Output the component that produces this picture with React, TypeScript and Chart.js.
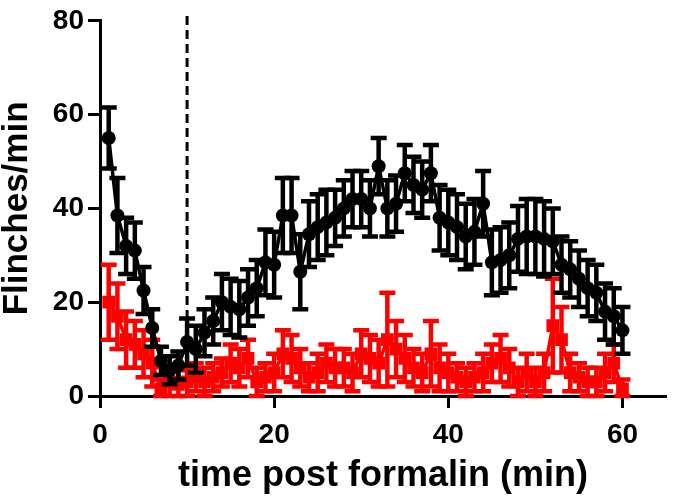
import React, { useEffect, useRef } from "react";
import { Chart, registerables } from "chart.js";

Chart.register(...registerables);

const minutes = Array.from({ length: 60 }, (_, i) => i + 1);

const blackMean = [
  55, 38.5, 32, 31, 22.5, 14.5, 7.5, 5.5, 6.5, 11.5,
  10, 13.5, 16, 20, 19, 18.5, 21, 23, 28.5, 28,
  38.5, 38.5, 26.5, 34.5, 36, 37, 38, 40, 42, 42,
  40, 49, 40, 41, 47.5, 45, 44, 47.5, 38, 37,
  36, 34, 35, 41, 28.5, 29, 30, 33.5, 34, 34,
  33.5, 33, 28, 27, 25, 23, 22, 18, 17, 14,
];
const blackErr = [
  6.5, 8, 6, 6, 5, 4, 3, 3, 3, 5,
  5, 5, 5, 6, 6, 6, 6, 6, 7, 7,
  8, 8, 8, 7, 7, 7, 6, 6, 6, 6,
  6, 6, 6, 6, 6, 6, 6, 6, 7, 7,
  7, 7, 7, 7, 7, 7, 7, 7, 8, 8,
  8, 7, 6, 6, 6, 6, 6, 6, 6, 5,
];

const redMean = [
  20, 17, 12, 11, 9, 7, 1.5, 3, 2.5, 3,
  4, 3, 4, 5, 7, 6, 8, 3, 4, 5,
  9, 8, 6, 4, 5, 7, 6, 6, 5, 9,
  8, 7, 12, 10, 8, 6, 5, 9, 6, 5,
  4, 3, 4, 5, 7, 8, 6, 3, 5, 3,
  5, 15, 12, 5, 4, 3, 3, 5, 7, 1.5,
];
const redErr = [
  8, 7, 6, 5, 5, 5, 2, 3, 3, 3,
  3, 3, 3, 3, 4, 4, 4, 3, 3, 4,
  5, 5, 4, 3, 4, 4, 4, 4, 4, 5,
  5, 5, 10, 6, 5, 4, 4, 7, 5, 4,
  3, 3, 3, 4, 4, 5, 4, 3, 4, 3,
  4, 10, 7, 4, 3, 3, 3, 4, 4, 2,
];

const xTicks = [0, 20, 40, 60];
const yTicks = [0, 20, 40, 60, 80];
const markerX = 10;

const FONT = "'Liberation Sans', Arial, Helvetica, sans-serif";

const errorBarPlugin = {
  id: "errorBars",
  beforeDatasetDraw(chart: any, args: any) {
    const ds = chart.data.datasets[args.index];
    const errs: number[] | undefined = ds.errors;
    if (!errs) return;
    const { ctx, scales } = chart;
    const xs = scales.x;
    const ys = scales.y;
    ctx.save();
    ctx.strokeStyle = ds.borderColor;
    ctx.lineWidth = 4.5;
    ds.data.forEach((p: any, i: number) => {
      const px = xs.getPixelForValue(p.x);
      const top = ys.getPixelForValue(p.y + errs[i]);
      const bot = ys.getPixelForValue(Math.max(0, p.y - errs[i]));
      ctx.beginPath();
      ctx.moveTo(px, top);
      ctx.lineTo(px, bot);
      ctx.moveTo(px - 8, top);
      ctx.lineTo(px + 8, top);
      ctx.moveTo(px - 8, bot);
      ctx.lineTo(px + 8, bot);
      ctx.stroke();
    });
    ctx.restore();
  },
  beforeDatasetsDraw(chart: any) {
    const { ctx, scales } = chart;
    const px = scales.x.getPixelForValue(markerX);
    ctx.save();
    ctx.strokeStyle = "#000";
    ctx.lineWidth = 3;
    ctx.setLineDash([9, 5]);
    ctx.beginPath();
    ctx.moveTo(px, scales.y.getPixelForValue(81));
    ctx.lineTo(px, scales.y.getPixelForValue(0));
    ctx.stroke();
    ctx.restore();
  },
};

export default function App() {
  const ref = useRef<HTMLCanvasElement | null>(null);
  useEffect(() => {
    document.body.style.margin = "0";
    const chart = new Chart(ref.current as HTMLCanvasElement, {
      type: "scatter",
      data: {
        datasets: [
          {
            label: "black",
            data: minutes.map((m, i) => ({ x: m, y: blackMean[i] })),
            errors: blackErr,
            showLine: true,
            borderColor: "#000000",
            backgroundColor: "#000000",
            borderWidth: 3.5,
            pointRadius: 7,
            pointBorderWidth: 0,
            pointStyle: "circle",
          } as any,
          {
            label: "red",
            data: minutes.map((m, i) => ({ x: m, y: redMean[i] })),
            errors: redErr,
            showLine: true,
            borderColor: "#ff0000",
            backgroundColor: "#ff0000",
            borderWidth: 3.5,
            pointRadius: 9,
            pointBorderWidth: 0,
            pointStyle: "rect",
          } as any,
        ],
      },
      options: {
        animation: false,
        responsive: false,
        layout: { padding: { top: 14, right: 3, left: 0, bottom: 0 } },
        plugins: { legend: { display: false }, tooltip: { enabled: false } },
        scales: {
          x: {
            type: "linear",
            min: 0,
            max: 65,
            afterBuildTicks: (s: any) => {
              s.ticks = xTicks.map((v) => ({ value: v }));
            },
            afterFit: (s: any) => {
              s.height = 102;
            },
            grid: {
              display: true,
              drawOnChartArea: false,
              drawTicks: true,
              tickLength: 12,
              tickWidth: 3,
              color: "#000",
            },
            border: { display: true, color: "#000", width: 3 },
            ticks: {
              color: "#000",
              font: { family: FONT, size: 28, weight: "bold" },
              padding: 10,
              maxRotation: 0,
            },
            title: {
              display: true,
              text: "time post formalin (min)",
              color: "#000",
              font: { family: FONT, size: 36, weight: "bold", lineHeight: 1.2 },
              padding: { top: 0, bottom: 0 },
            },
          },
          y: {
            type: "linear",
            min: 0,
            max: 80,
            afterBuildTicks: (s: any) => {
              s.ticks = yTicks.map((v) => ({ value: v }));
            },
            afterFit: (s: any) => {
              s.width = 100;
            },
            grid: {
              display: true,
              drawOnChartArea: false,
              drawTicks: true,
              tickLength: 12,
              tickWidth: 3,
              color: "#000",
            },
            border: { display: true, color: "#000", width: 3 },
            ticks: {
              color: "#000",
              font: { family: FONT, size: 28, weight: "bold" },
              padding: 4,
            },
            title: {
              display: true,
              text: "Flinches/min",
              color: "#000",
              font: { family: FONT, size: 35, weight: "bold", lineHeight: 1.0 },
              padding: { top: 0, bottom: 0 },
            },
          },
        },
      } as any,
      plugins: [errorBarPlugin],
    });
    return () => chart.destroy();
  }, []);
  return (
    <div style={{ position: "relative", width: 675, height: 498 }}>
      <canvas ref={ref} width={675} height={498} style={{ width: 675, height: 498 }} />
    </div>
  );
}
